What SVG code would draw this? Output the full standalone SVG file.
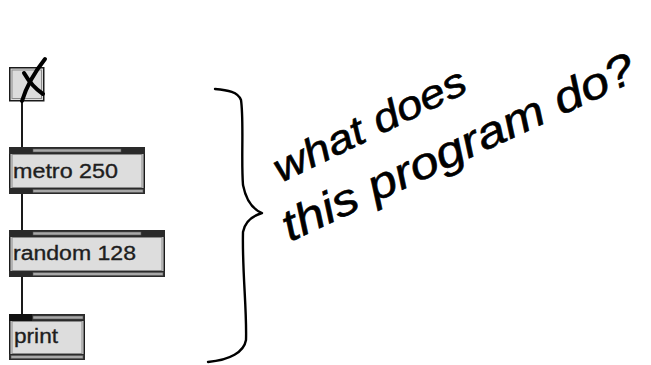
<svg xmlns="http://www.w3.org/2000/svg" width="651" height="365" viewBox="0 0 651 365">
<style>
.body{fill:#dcdcdc;stroke:#1a1a1a;stroke-width:1.5}
.inner{fill:#dddddd;stroke:#8a8a8a;stroke-width:1}
.strip{fill:#2a2a2a}
.bar{fill:#a8a8a8;stroke:#555;stroke-width:0.6}
.port{fill:#111}
.lbl{font-family:"Liberation Sans",Arial,sans-serif;font-size:20px;fill:#1e1e1e;stroke:#1e1e1e;stroke-width:0.35}
.wire{stroke:#1a1a1a;stroke-width:2;fill:none}
.ink{fill:none;stroke:#000;stroke-linecap:round;stroke-linejoin:round}
.hand{font-family:"Liberation Sans",Arial,sans-serif;font-style:italic;fill:#000;stroke:#000;stroke-width:0.6}
</style>
<rect width="651" height="365" fill="#ffffff"/>

<g id="connectors">
<line class="wire" x1="22" y1="101" x2="22" y2="148"/>
<line class="wire" x1="22" y1="193" x2="22" y2="231"/>
<line class="wire" x1="22" y1="276" x2="22" y2="315"/>
</g>

<g id="toggle">
<rect x="9.75" y="67.75" width="34" height="33" fill="#dcdcdc" stroke="#1a1a1a" stroke-width="1.5"/>
<rect x="12" y="70" width="29.5" height="28.5" fill="none" stroke="#8a8a8a" stroke-width="1"/>
<path class="ink" stroke-width="4" d="M22 101 C26 88 33 74 45 59"/>
<path class="ink" stroke-width="4" d="M24 73 C28 80 34 88 43 94"/>
</g>

<g id="metro">
<rect class="body" x="9.75" y="147.75" width="134.5" height="45.5"/>
<rect class="inner" x="12" y="154.5" width="130" height="33"/>
<rect class="strip" x="9" y="147" width="136" height="7"/>
<rect class="bar" x="33" y="149" width="88" height="3"/>
<rect class="strip" x="9" y="188" width="136" height="6"/>
<rect class="bar" x="33" y="189.5" width="110" height="3"/>
<text class="lbl" x="13" y="178" textLength="105" lengthAdjust="spacingAndGlyphs">metro 250</text>
</g>

<g id="random">
<rect class="body" x="9.75" y="230.75" width="154.5" height="45.5"/>
<rect class="inner" x="12" y="237.5" width="150" height="33"/>
<rect class="strip" x="9" y="230" width="156" height="7"/>
<rect class="bar" x="33" y="232" width="108" height="3"/>
<rect class="strip" x="9" y="271" width="156" height="6"/>
<rect class="bar" x="33" y="272.5" width="130" height="3"/>
<text class="lbl" x="13" y="260" textLength="123" lengthAdjust="spacingAndGlyphs">random 128</text>
</g>

<g id="print">
<rect class="body" x="9.75" y="314.75" width="74.5" height="44.5"/>
<rect class="inner" x="12" y="321.5" width="70" height="32"/>
<rect class="strip" x="9" y="314" width="76" height="7"/>
<rect class="port" x="9" y="314" width="23" height="7"/>
<rect class="bar" x="33" y="316" width="50" height="3"/>
<rect class="strip" x="9" y="354" width="76" height="6"/>
<rect class="bar" x="11" y="355.5" width="72" height="3"/>
<text class="lbl" x="14" y="343" textLength="44" lengthAdjust="spacingAndGlyphs">print</text>
</g>

<g id="annotation">
<path class="ink" stroke-width="2.4" d="M215 89 C228 90 238 92 241 100 C244 120 241 160 243 185 C246 200 252 209 262 213 C252 216 245 221 243 232 C242 270 247 310 246 340 C244 352 230 360 208 362"/>
<text class="hand" font-size="40" transform="translate(281 183) rotate(-26)" textLength="210" lengthAdjust="spacingAndGlyphs">what does</text>
<text class="hand" font-size="44" transform="translate(290 242) rotate(-25)" textLength="385" lengthAdjust="spacingAndGlyphs">this program do?</text>
</g>
</svg>
